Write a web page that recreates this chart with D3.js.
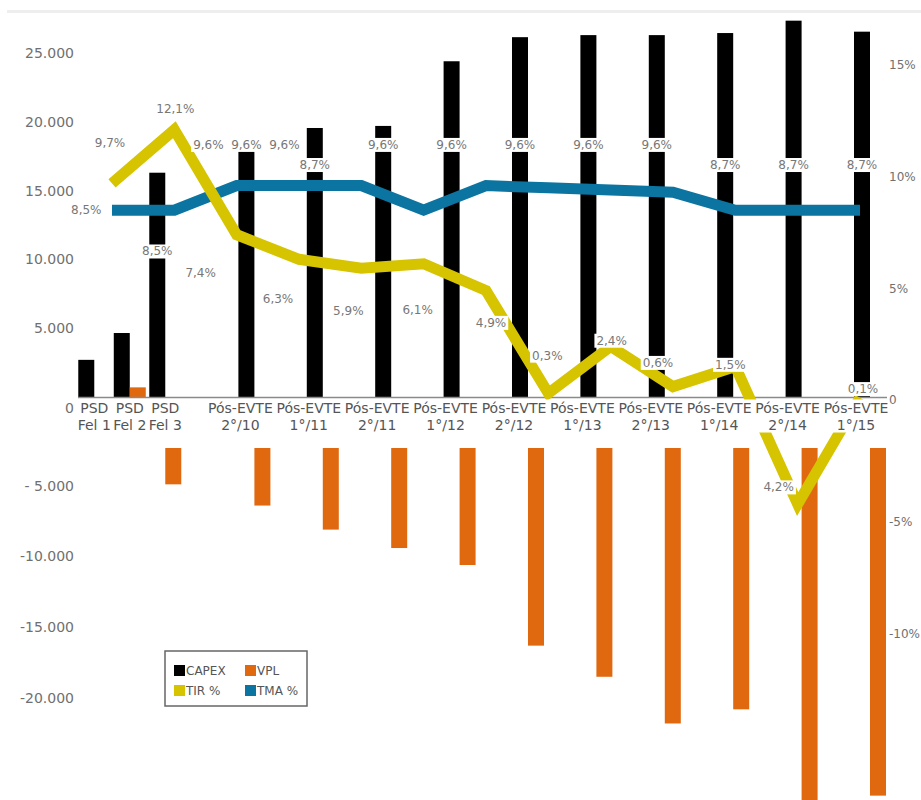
<!DOCTYPE html>
<meta charset="utf-8">
<style>
    body { margin: 0; background: #fff; }
    svg text { font-family: "DejaVu Sans", sans-serif; }
    .tick text { fill: #707070; font-size: 14px; }
    .pct .tick text { font-size: 12px; }
    .cat { fill: #555; font-size: 14px; }
    .lbl { fill: #777; font-size: 12px; }
    .leg { fill: #555; font-size: 12px; }
</style>
<svg width="921" height="800"></svg>
<script src="https://d3js.org/d3.v7.min.js"></script>
<script>
    // categorias e séries
    var categories = ['PSD Fel 1', 'PSD Fel 2', 'PSD Fel 3',
        'Pós-EVTE 2°/10', 'Pós-EVTE 1°/11', 'Pós-EVTE 2°/11', 'Pós-EVTE 1°/12', 'Pós-EVTE 2°/12',
        'Pós-EVTE 1°/13', 'Pós-EVTE 2°/13', 'Pós-EVTE 1°/14', 'Pós-EVTE 2°/14', 'Pós-EVTE 1°/15'];
    var capex = [2700, 4650, 16300, 17900, 19550, 19700, 24400, 26150, 26300, 26300, 26450, 27350, 26550];
    var vpl = [0, 700, -4900, -6400, -8100, -9400, -10600, -16300, -18500, -21800, -20800, -28000, -26900];
    var tir = [9.7, 12.1, 7.4, 6.3, 5.9, 6.1, 4.9, 0.3, 2.4, 0.6, 1.5, -4.2, 0.1];
    var tma = [8.5, 8.5, 9.6, 9.6, 9.6, 8.5, 9.6, 9.5, 9.4, 9.3, 8.5, 8.5, 8.5];
    var tirText = ['9,7%', '12,1%', '7,4%', '6,3%', '5,9%', '6,1%', '4,9%', '0,3%', '2,4%', '0,6%', '1,5%', '4,2%', '0,1%'];
    var tmaText = ['8,5%', '', '8,5%', '9,6%', '8,7%', '9,6%', '9,6%', '9,6%', '9,6%', '9,6%', '8,7%', '8,7%', '8,7%'];
    var tmaExtra = [['Pós-EVTE 2°/10', '9,6%', -1], ['Pós-EVTE 2°/10', '9,6%', 1]];
    var moneyTicksUp = [0, 5000, 10000, 15000, 20000, 25000];
    var moneyTicksDown = [-5000, -10000, -15000, -20000];
    var pctTicksUp = [0, 5, 10, 15];
    var pctTicksDown = [-5, -10];
    var legendItems = [['CAPEX', '#000'], ['VPL', '#e0680f'], ['TIR %', '#d6c400'], ['TMA %', '#0b74a1']];

    // ajustes de posição dos rótulos (px)
    var tirNudge = [[-2, -41], [1, -21], [-36, 38], [-21, 39], [-13, 42], [-6, 46], [5, 32],
        [-1, -38], [1, -6], [-15, -24], [-5, -2], [-19, -17], [3, -9]];
    var tmaPlace = ['mid', '', 'below', 'above', 'above', 'above', 'above', 'above', 'above', 'above', 'above', 'above', 'above'];

    var svg = d3.select('svg');
    var BLACK = '#000', ORANGE = '#e0680f', YELLOW = '#d6c400', BLUE = '#0b74a1';

    var psdCats = categories.slice(0, 3);
    var posCats = categories.slice(3);
    var xPsd = d3.scaleBand().domain(psdCats).range([76.5, 183]).paddingInner(0.1).paddingOuter(0.05);
    var xPos = d3.scaleBand().domain(posCats).range([220.2, 904.2]).paddingInner(0.532).paddingOuter(0.266);
    function xBand(c) { return psdCats.indexOf(c) >= 0 ? xPsd(c) : xPos(c); }
    var xSub = d3.scaleBand().domain(['CAPEX', 'VPL']).range([0, 32]);
    var xPt = d3.scalePoint().domain(categories).range([112, 860]);

    var yUp = d3.scaleLinear().domain([0, 25000]).range([397, 53]);
    var yDown = d3.scaleLinear().domain([0, -20000]).range([415, 698]);
    var pUp = d3.scaleLinear().domain([0, 15]).range([400, 65]);
    var pDown = d3.scaleLinear().domain([0, -10]).range([410, 634]);
    function yPct(v) { return v >= 0 ? pUp(v) : pDown(v); }

    var br = d3.formatLocale({decimal: ',', thousands: '.', grouping: [3], currency: ['R$', ''], minus: '-'});
    var fmt = br.format(',d');

    svg.append('defs').append('clipPath').attr('id', 'neg')
        .append('rect').attr('x', 0).attr('y', 448).attr('width', 921).attr('height', 400);

    // faixa cinza do topo
    svg.append('rect').attr('x', 7).attr('y', 10).attr('width', 914).attr('height', 3).attr('fill', '#eeeeee');

    // barras
    var rows = categories.map(function (c, i) {
        return {cat: c, capex: capex[i], vpl: vpl[i]};
    });
    var bars = svg.append('g');
    bars.selectAll('.capex').data(rows).enter().append('rect')
        .attr('class', 'capex')
        .attr('x', function (d) { return xBand(d.cat) + xSub('CAPEX'); })
        .attr('width', xSub.bandwidth())
        .attr('y', function (d) { return yUp(d.capex); })
        .attr('height', function (d) { return yUp(0) - yUp(d.capex); })
        .attr('fill', BLACK);
    bars.selectAll('.vplUp').data(rows.filter(function (d) { return d.vpl > 0; })).enter().append('rect')
        .attr('x', function (d) { return xBand(d.cat) + xSub('VPL'); })
        .attr('width', xSub.bandwidth())
        .attr('y', function (d) { return yUp(d.vpl); })
        .attr('height', function (d) { return yUp(0) - yUp(d.vpl); })
        .attr('fill', ORANGE);
    bars.append('g').attr('clip-path', 'url(#neg)')
        .selectAll('rect').data(rows.filter(function (d) { return d.vpl < 0; })).enter().append('rect')
        .attr('x', function (d) { return xBand(d.cat) + xSub('VPL'); })
        .attr('width', xSub.bandwidth())
        .attr('y', yDown(0))
        .attr('height', function (d) { return yDown(d.vpl) - yDown(0); })
        .attr('fill', ORANGE);

    // linha de base
    svg.append('line').attr('x1', 78).attr('x2', 887).attr('y1', yUp(0) + 0.5).attr('y2', yUp(0) + 0.5)
        .attr('stroke', '#8a8a8a').attr('stroke-width', 1.5);

    // linhas TMA e TIR
    var line = d3.line()
        .x(function (d) { return xPt(d.cat); })
        .y(function (d) { return yPct(d.v); });
    function series(arr) {
        return categories.map(function (c, i) { return {cat: c, v: arr[i]}; });
    }
    svg.append('path').datum(series(tma)).attr('d', line)
        .attr('fill', 'none').attr('stroke', BLUE).attr('stroke-width', 11).attr('stroke-linejoin', 'miter');
    svg.append('path').datum(series(tir)).attr('d', line)
        .attr('fill', 'none').attr('stroke', YELLOW).attr('stroke-width', 11)
        .attr('stroke-linejoin', 'miter').attr('stroke-miterlimit', 10);

    // faixa dos rótulos de categoria
    svg.append('rect').attr('x', 76).attr('y', 399.5).attr('width', 815).attr('height', 33).attr('fill', '#fff');
    var cats = svg.append('g').selectAll('text').data(categories).enter().append('text')
        .attr('class', 'cat')
        .attr('text-anchor', 'middle')
        .attr('x', function (c) {
            return psdCats.indexOf(c) >= 0 ? xPsd(c) + xPsd.bandwidth() / 2 : xPos(c) + 2;
        })
        .attr('y', 413);
    cats.append('tspan').attr('x', function () { return this.parentNode.getAttribute('x'); })
        .text(function (c) { return c.slice(0, c.indexOf(' ')); });
    cats.append('tspan').attr('x', function () { return this.parentNode.getAttribute('x'); })
        .attr('dy', 17)
        .text(function (c) { return c.slice(c.indexOf(' ') + 1); });

    // eixos
    function moneyFmt(d) {
        return d < 0 && d > -10000 ? '- ' + fmt(-d) : fmt(d);
    }
    function pctFmt(d) { return d === 0 ? '0' : d + '%'; }
    var axes = [
        svg.append('g').attr('transform', 'translate(80,0)')
            .call(d3.axisLeft(yUp).tickValues(moneyTicksUp).tickSize(0).tickPadding(6).tickFormat(moneyFmt)),
        svg.append('g').attr('transform', 'translate(80,0)')
            .call(d3.axisLeft(yDown).tickValues(moneyTicksDown).tickSize(0).tickPadding(6).tickFormat(moneyFmt)),
        svg.append('g').attr('class', 'pct').attr('transform', 'translate(884,0)')
            .call(d3.axisRight(pUp).tickValues(pctTicksUp).tickSize(0).tickPadding(5).tickFormat(pctFmt)),
        svg.append('g').attr('class', 'pct').attr('transform', 'translate(884,0)')
            .call(d3.axisRight(pDown).tickValues(pctTicksDown).tickSize(0).tickPadding(5).tickFormat(pctFmt))
    ];
    axes.forEach(function (a) {
        a.select('.domain').remove();
        a.attr('font-family', null).attr('font-size', null);
    });
    axes[0].selectAll('.tick').filter(function (d) { return d === 0; })
        .select('text').attr('dy', '1.1em');

    // rótulos de dados
    var labels = svg.append('g');
    function addLabel(x, y, t) {
        var g = labels.append('g');
        var txt = g.append('text').attr('class', 'lbl').attr('text-anchor', 'middle')
            .attr('x', x).attr('y', y).attr('dy', '0.36em').text(t);
        var b = txt.node().getBBox();
        g.insert('rect', 'text').attr('x', b.x - 2).attr('y', b.y).attr('width', b.width + 4)
            .attr('height', b.height).attr('fill', '#fff');
    }
    function capexCenter(c) { return xBand(c) + xSub('CAPEX') + xSub.bandwidth() / 2; }
    function textValue(t) { return +t.replace('%', '').replace(',', '.'); }
    tmaText.forEach(function (t, i) {
        if (!t) return;
        var c = categories[i], v = textValue(t), y = pUp(v);
        if (tmaPlace[i] === 'above') y -= 41;
        if (tmaPlace[i] === 'below') y += 41;
        addLabel(capexCenter(c), y, t);
    });
    tmaExtra.forEach(function (e) {
        addLabel(capexCenter(e[0]) + e[2] * 38, pUp(textValue(e[1])) - 41, e[1]);
    });
    tirText.forEach(function (t, i) {
        addLabel(xPt(categories[i]) + tirNudge[i][0], yPct(tir[i]) + tirNudge[i][1], t);
    });

    // legenda
    var leg = svg.append('g').attr('transform', 'translate(165,651)');
    leg.append('rect').attr('width', 142).attr('height', 55)
        .attr('fill', '#fff').attr('stroke', '#666').attr('stroke-width', 1.5);
    var li = leg.selectAll('.li').data(legendItems).enter().append('g')
        .attr('transform', function (d, i) {
            return 'translate(' + (i % 2 === 0 ? 9 : 80) + ',' + (i < 2 ? 14 : 34) + ')';
        });
    li.append('rect').attr('width', 11).attr('height', 11).attr('fill', function (d) { return d[1]; });
    li.append('text').attr('class', 'leg').attr('x', 12).attr('y', 10).text(function (d) { return d[0]; });
</script>
